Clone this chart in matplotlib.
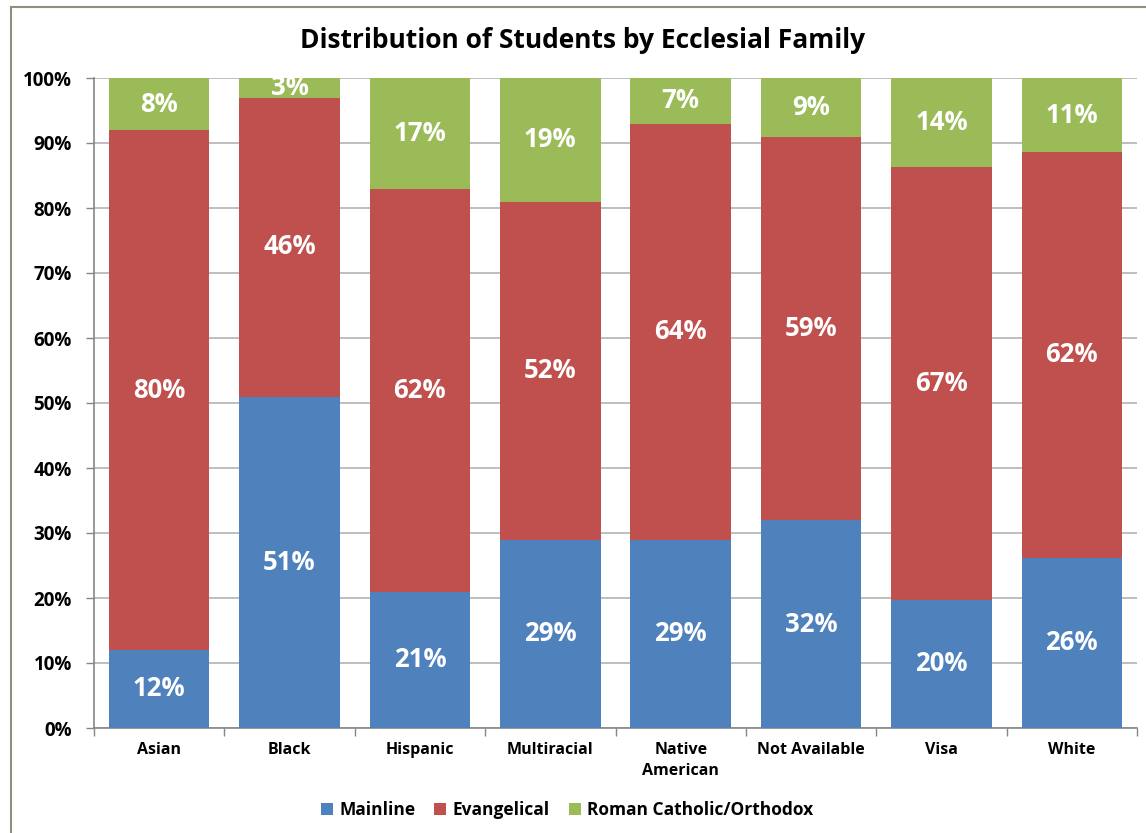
import matplotlib
matplotlib.use("Agg")
import matplotlib.pyplot as plt
from matplotlib.lines import Line2D
import numpy as np

categories = ["Asian", "Black", "Hispanic", "Multiracial", "Native\nAmerican",
              "Not Available", "Visa", "White"]
mainline = [12, 51, 21, 29, 29, 32, 19.7, 26.2]
evangelical = [80, 46, 62, 52, 64, 59, 66.6, 62.4]
catholic = [8, 3, 17, 19, 7, 9, 13.7, 11.4]
series_names = ["Mainline", "Evangelical", "Roman Catholic/Orthodox"]
colors = ["#4F81BD", "#C0504D", "#9BBB59"]
yticks = [0, 10, 20, 30, 40, 50, 60, 70, 80, 90, 100]

plt.rcParams['font.family'] = ['Open Sans', 'DejaVu Sans']
plt.rcParams['font.weight'] = 'bold'

fig = plt.figure(figsize=(11.46, 8.33), dpi=100)
ax = fig.add_axes([94/1146, 1 - 728/833, (1137 - 94)/1146, (728 - 78)/833])

x = np.arange(len(categories))
bottom = np.zeros(len(categories))
for vals, name, col in zip([mainline, evangelical, catholic], series_names, colors):
    vals = np.array(vals, dtype=float)
    bars = ax.bar(x, vals, 0.77, bottom=bottom, color=col, label=name, zorder=3)
    ax.bar_label(bars, labels=[f"{v:.0f}%" for v in vals], label_type='center',
                 color='white', fontsize=18.5, fontweight='bold', zorder=4)
    bottom += vals

ax.set_xlim(-0.5, len(categories) - 0.5)
ax.set_ylim(0, 100)
ax.set_yticks(yticks)
ax.set_yticklabels([f"{t}%" for t in yticks], fontsize=13.5, fontweight='bold')
ax.yaxis.grid(True, color='#B3B3B3', linewidth=1.2, zorder=0)
ax.set_axisbelow(True)

ax.set_xticks(x)
ax.set_xticklabels(categories, fontsize=11.5, fontweight='bold', linespacing=1.45)
ax.tick_params(axis='x', length=0, pad=10)
ax.set_xticks(np.arange(-0.5, len(categories), 1), minor=True)
ax.tick_params(axis='x', which='minor', length=6, color='#868686', width=1)
ax.tick_params(axis='y', length=6, color='#868686', width=1, pad=10)

for s in ['top', 'right']:
    ax.spines[s].set_visible(False)
for s in ['left', 'bottom']:
    ax.spines[s].set_color('#868686')
    ax.spines[s].set_linewidth(1.2)

fig.text(583/1146, 1 - 40/833, "Distribution of Students by Ecclesial Family",
         ha='center', va='center', fontsize=19, fontweight='bold')

leg = fig.legend(loc='center', bbox_to_anchor=(567/1146, 1 - 810/833), ncol=3,
                 frameon=False, handlelength=0.7, handleheight=0.7,
                 handletextpad=0.35, columnspacing=1.1,
                 prop={'weight': 'bold', 'size': 12.5})

# outer chart border
bc = '#8F8F80'
fig.add_artist(Line2D([11/1146, 11/1146], [0, 1 - 7/833], transform=fig.transFigure,
                      color=bc, linewidth=1.5))
fig.add_artist(Line2D([11/1146, 1], [1 - 7/833, 1 - 7/833], transform=fig.transFigure,
                      color=bc, linewidth=1.5))

fig.savefig("out.png", dpi=100)
